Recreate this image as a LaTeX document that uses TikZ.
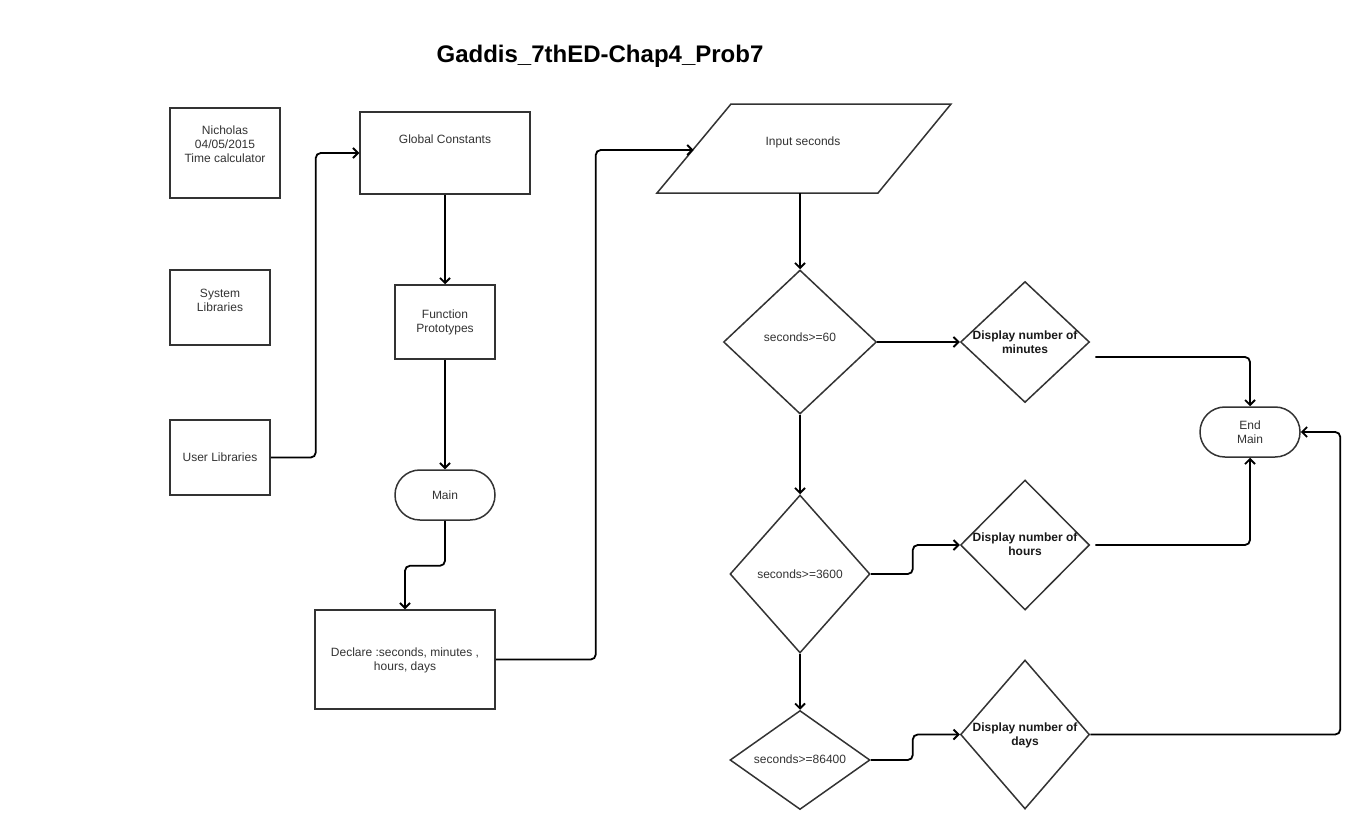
\documentclass[tikz,border=0pt]{standalone}
\usepackage{fontspec}
\setmainfont{Liberation Sans}
\usetikzlibrary{arrows.meta,shapes.geometric}
\begin{document}
\begin{tikzpicture}[x=1pt,y=-1pt,
  box/.style={draw=black!80, line width=1.5pt, inner sep=0pt, rectangle},
  dia/.style={diamond, draw=black!80, line width=1.5pt, inner sep=0pt, aspect=1},
  term/.style={box, rounded corners=24.9pt},
  lbl/.style={font=\fontsize{12}{14}\selectfont, text=black!80, align=center, inner sep=0pt},
  lblb/.style={font=\fontsize{12}{14}\selectfont\bfseries, text=black!90, align=center, inner sep=0pt},
  conn/.style={draw=black, line width=1.8pt, rounded corners=5pt, -{Straight Barb[length=5pt,width=10pt,line width=1.8pt]}},
]
\fill[white] (0,0) rectangle (1364,830);
\useasboundingbox (0,0) rectangle (1364,830);

% title
\node[font=\fontsize{24}{28}\selectfont\bfseries, anchor=base, inner sep=0pt] (title) at (600,62) {Gaddis\_7thED-Chap4\_Prob7};

% left column
\node[box, minimum width=110pt, minimum height=90pt] (nich) at (225,153) {};
\node[lbl] (nicht) at (225,144) {Nicholas\\04/05/2015\\Time calculator};
\node[box, minimum width=100pt, minimum height=75pt] (sys) at (220,307.5) {};
\node[lbl] (syst) at (220,300) {System\\Libraries};
\node[box, minimum width=100pt, minimum height=75pt] (usr) at (220,457.5) {};
\node[lbl] (usrt) at (220,457.5) {User Libraries};

% middle column
\node[box, minimum width=170pt, minimum height=82pt] (glob) at (445,153) {};
\node[lbl] (globt) at (445,139) {Global Constants};
\node[box, minimum width=100pt, minimum height=74pt] (func) at (445,322) {};
\node[lbl] (funct) at (445,322) {Function\\Prototypes};
\node[term, minimum width=100pt, minimum height=50pt] (main) at (445,495) {};
\node[lbl] (maint) at (445,495) {Main};
\node[box, minimum width=180pt, minimum height=99pt] (decl) at (405,659.5) {};
\node[lbl] (declt) at (405,660) {Declare :seconds, minutes ,\\hours, days};

% input parallelogram
\draw[draw=black!80, line width=1.5pt, line join=miter] (731,104) -- (951,104) -- (878,193) -- (657,193) -- cycle;
\node[lbl] (inp) at (803,142) {Input seconds};
\coordinate (inpW) at (693.5,150);
\coordinate (inpS) at (800,193);

% decisions
\node[dia, minimum width=153pt, minimum height=144pt] (d1) at (800,342) {};
\node[lbl] (d1t) at (800,337) {seconds>=60};
\node[dia, minimum width=140pt, minimum height=158pt] (d2) at (800,574) {};
\node[lbl] (d2t) at (800,574) {seconds>=3600};
\node[dia, minimum width=140pt, minimum height=99pt] (d3) at (800,760) {};
\node[lbl] (d3t) at (800,759) {seconds>=86400};

% displays
\node[dia, minimum width=129pt, minimum height=121pt] (dmin) at (1025,342) {};
\node[lblb] (dmint) at (1025,342) {Display number of\\minutes};
\node[dia, minimum width=129pt, minimum height=130pt] (dhr) at (1025,545) {};
\node[lblb] (dhrt) at (1025,544) {Display number of\\hours};
\node[dia, minimum width=129pt, minimum height=149pt] (dday) at (1025,734.5) {};
\node[lblb] (ddayt) at (1025,735) {Display number of\\days};

% end
\node[term, minimum width=100pt, minimum height=50pt] (endm) at (1250,432) {};
\node[lbl] (endmt) at (1250,432) {End\\Main};

% connectors
\draw[conn] (usr.east) -- ++(45,0) |- (glob.west);
\draw[conn] (glob.south) -- (func.north);
\draw[conn] (func.south) -- (main.north);
\draw[conn] (main.south) -- ++(0,45) -| (decl.north);
\draw[conn] (decl.east) -- ++(100,0) |- (inpW);
\draw[conn] (inpS) -- (d1.north);
\draw[conn] (d1.east) -- (dmin.west);
\draw[conn] (d1.south) -- (d2.north);
\draw[conn] (d2.south) -- (d3.north);
\draw[conn] (d2.east) -- ++(42,0) |- (dhr.west);
\draw[conn] (d3.east) -- ++(42,0) |- (dday.west);
\draw[conn] ([shift={(5,15)}]dmin.east) -| (endm.north);
\draw[conn] ([shift={(5,0)}]dhr.east) -| (endm.south);
\draw[conn] (dday.east) -- ++(250,0) |- (endm.east);
\end{tikzpicture}
\end{document}
